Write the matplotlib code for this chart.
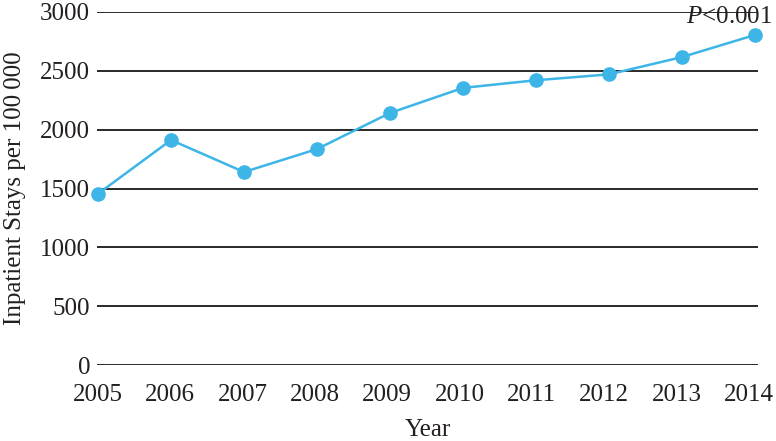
import matplotlib.pyplot as plt
from matplotlib.transforms import ScaledTranslation

YEARS = [2005, 2006, 2007, 2008, 2009, 2010, 2011, 2012, 2013, 2014]
STAYS = [1455, 1912, 1640, 1835, 2142, 2355, 2420, 2470, 2617, 2805]
Y_TICKS = [0, 500, 1000, 1500, 2000, 2500, 3000]

LINE_COLOR = "#3db5e6"
GRID_COLOR = "#1a1718"

plt.rcParams["font.family"] = ["Liberation Serif", "DejaVu Serif"]
plt.rcParams["mathtext.fontset"] = "custom"
plt.rcParams["mathtext.rm"] = "Liberation Serif"
plt.rcParams["mathtext.it"] = "Liberation Serif:italic"

fig = plt.figure(figsize=(7.76, 4.41), dpi=100)
ax = fig.add_axes([97 / 776, 1 - 365 / 441, (758 - 97) / 776, (365 - 12) / 441])

ax.plot(YEARS, STAYS, color=LINE_COLOR, lw=1.8, marker="o", markersize=9.5,
        zorder=3, clip_on=False)

ax.set_xlim(2005 - 1 / 73, 2014 + 3 / 73)
ax.set_ylim(0, 3000)
ax.set_xticks(YEARS)
ax.set_yticks(Y_TICKS)

ax.yaxis.grid(True, color=GRID_COLOR, lw=1.3)
ax.set_axisbelow(True)
for s in ax.spines.values():
    s.set_visible(False)

ax.tick_params(axis="both", length=0, labelsize=18, colors="#231f20")
ax.tick_params(axis="x", pad=14)
ax.tick_params(axis="y", pad=5)

# the year labels drift a little left of their points, as in the reference
labels = ax.get_xticklabels()
for i, lab in enumerate(labels):
    shift = -0.7 * i / 100
    lab.set_transform(lab.get_transform() + ScaledTranslation(shift, 0, fig.dpi_scale_trans))

ax.set_xlabel("Year", fontsize=18, labelpad=9, color="#231f20")
ax.set_ylabel("Inpatient Stays per 100\u2009000", fontsize=18, labelpad=10, color="#231f20")

ax.text(2014 + 17 / 73, 2906, "$P$<0.001", ha="right", va="baseline",
        fontsize=18, color="#231f20", clip_on=False)

fig.savefig("out.png", dpi=100)
